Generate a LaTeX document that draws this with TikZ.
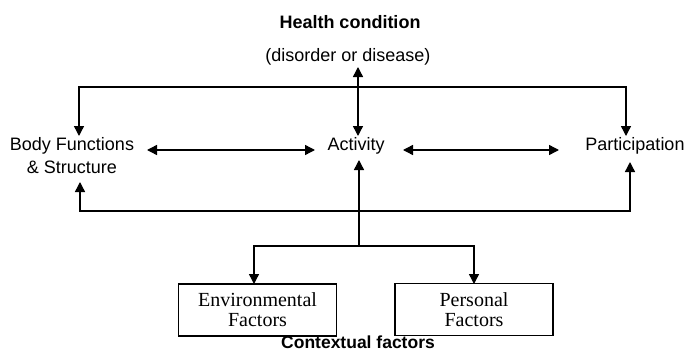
\documentclass[tikz,border=0pt]{standalone}
\usepackage{fontspec}
\setmainfont{Liberation Sans}
\newfontfamily\boxserif{Liberation Serif}
\usetikzlibrary{arrows.meta}
\begin{document}
\begin{tikzpicture}[x=1pt,y=-1pt,
  line width=1.4pt,
  >={Triangle[length=10pt,width=10pt]},
  lbl/.style={font=\fontsize{18}{23}\selectfont, inner sep=0pt},
  blbl/.style={font=\fontsize{18}{23}\selectfont\bfseries, inner sep=0pt},
  factorbox/.style={draw, line width=1.2pt, minimum width=158pt, minimum height=52pt,
    align=center, inner sep=0pt, font=\boxserif\fontsize{20}{20}\selectfont}]
\useasboundingbox[fill=white] (0,0) rectangle (686,351);
% texts
\node[blbl, anchor=base] (hc) at (350,28.5) {Health condition};
\node[lbl, anchor=base] (dd) at (348,61) {(disorder or disease)};
\node[lbl, align=center] (bf) at (72,156) {Body Functions\\\& Structure};
\node[lbl, anchor=base] (act) at (356,150.5) {Activity};
\node[lbl, anchor=base] (part) at (635,150.5) {Participation};
\node[factorbox] (env) at (257.5,310) {Environmental\\Factors};
\node[factorbox] (pers) at (474,309.5) {Personal\\Factors};
\node[blbl, anchor=base, text depth=0pt, font=\fontsize{17.5}{20}\selectfont\bfseries] (ctx) at (358,348.5) {Contextual factors};
% junctions / connector ends
\coordinate (ddBot) at (358,67);
\coordinate (actTop) at (358,136);
\coordinate (tc) at (358,87);
\coordinate (bfTop) at (79,136);
\coordinate (partTop) at (626,136);
\coordinate (bfBot) at (80,182);
\coordinate (partBot) at (630,162);
\coordinate (bc) at (359,211);
\coordinate (actBot) at (359,160);
\coordinate (br) at (359,246);
\coordinate (envTop) at (254,284);
\coordinate (persTop) at (474,284);
\coordinate (bfR) at (147,150);
\coordinate (actL) at (315,150);
\coordinate (actR) at (403,150);
\coordinate (partL) at (559,150);
% connectors
\draw[<->] (ddBot) -- (actTop);
\draw[<->] (bfTop) |- (tc) -| (partTop);
\draw[<->] (bfR) -- (actL);
\draw[<->] (actR) -- (partL);
\draw[<->] (bfBot) |- (bc) -| (partBot);
\draw[->] (br) -- (actBot);
\draw[<->] (envTop) |- (br) -| (persTop);
\end{tikzpicture}
\end{document}
